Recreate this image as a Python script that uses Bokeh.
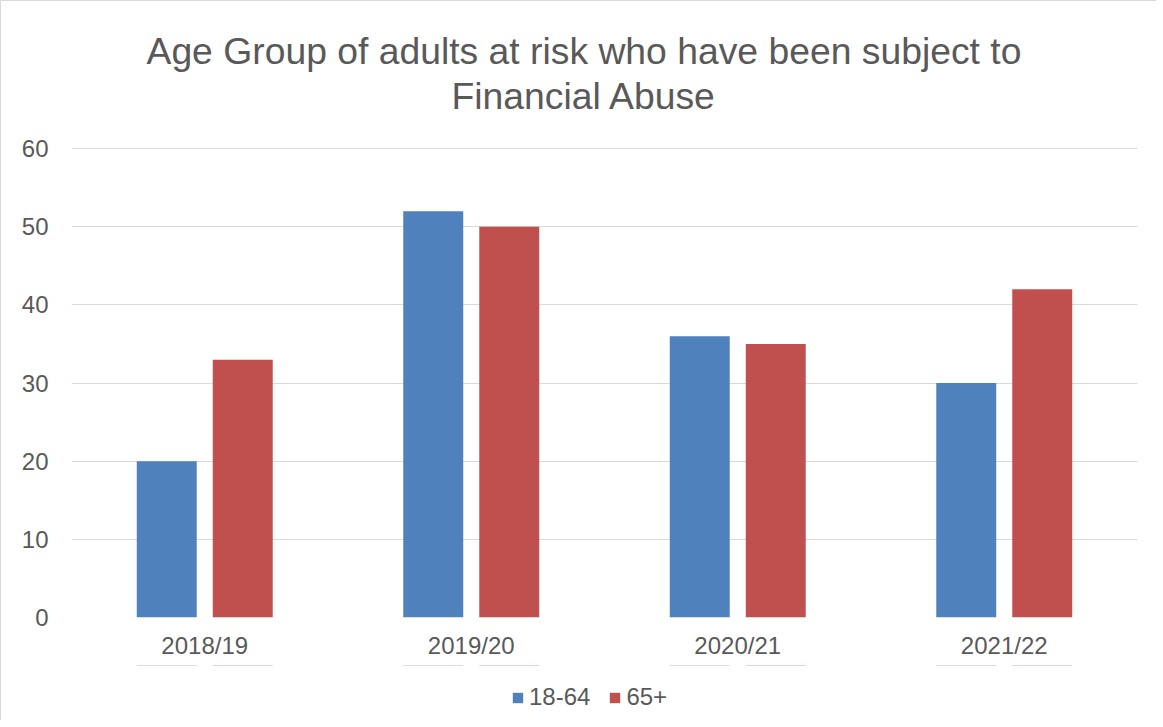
from bokeh.plotting import figure
from bokeh.layouts import column
from bokeh.models import FactorRange, ColumnDataSource, Title, Legend, LegendItem, Range1d, SingleIntervalTicker
from bokeh.transform import dodge
from bokeh.embed import file_html
from bokeh.resources import INLINE

years = ["2018/19", "2019/20", "2020/21", "2021/22"]
age_18_64 = [20, 52, 36, 30]
age_65_plus = [33, 50, 35, 42]
series_names = ["18-64", "65+"]
title_lines = ["Age Group of adults at risk who have been subject to", "Financial Abuse"]

FONT = "Liberation Sans"
TXT = "#595959"
BLUE = "#4F81BD"
RED = "#C0504D"

src = ColumnDataSource(dict(year=years, a=age_18_64, b=age_65_plus))
xr = FactorRange(factors=years)

p = figure(x_range=xr, y_range=Range1d(0, 60.15),
           width=1155, height=664, output_backend="svg", toolbar_location=None,
           min_border_left=70, min_border_right=19, min_border_top=146, min_border_bottom=48)
p.outline_line_color = None

p.vbar(x=dodge("year", -0.1426, range=xr), top="a", width=0.225, source=src,
       fill_color=BLUE, line_color=None)
p.vbar(x=dodge("year", 0.1426, range=xr), top="b", width=0.225, source=src,
       fill_color=RED, line_color=None)

# blank spacer nearest the plot area, then the two title lines
p.add_layout(Title(text=" ", text_font_size="2px", standoff=27), "above")
p.add_layout(Title(text=title_lines[1], align="left", offset=380, standoff=0,
                   text_font_size="37.3px", text_font=FONT, text_font_style="normal",
                   text_color=TXT), "above")
p.add_layout(Title(text=title_lines[0], align="left", offset=75, standoff=2,
                   text_font_size="37.3px", text_font=FONT, text_font_style="normal",
                   text_color=TXT), "above")

p.xgrid.grid_line_color = None
p.ygrid.grid_line_color = "#d9d9d9"
p.ygrid.grid_line_width = 1
p.yaxis.ticker = SingleIntervalTicker(interval=10)

for ax in (p.xaxis[0], p.yaxis[0]):
    ax.axis_line_color = None
    ax.major_tick_line_color = None
    ax.minor_tick_line_color = None
    ax.major_label_text_font = FONT
    ax.major_label_text_font_size = "24px"
    ax.major_label_text_color = TXT
p.yaxis.major_label_standoff = 17
p.xaxis.major_label_standoff = 8

# legend strip below the chart (its zero-height bars sit far outside its y range)
pl = figure(x_range=xr, y_range=Range1d(-1001, -1000), width=1155, height=55,
            output_backend="svg", toolbar_location=None,
            x_axis_location=None, y_axis_location=None,
            min_border_left=70, min_border_right=19, min_border_top=0, min_border_bottom=0)
pl.outline_line_color = None
pl.xgrid.visible = False
pl.ygrid.visible = False
lr1 = pl.vbar(x=dodge("year", -0.1426, range=xr), top="a", bottom="a", width=0.225, source=src,
              fill_color=BLUE, line_color=None)
lr2 = pl.vbar(x=dodge("year", 0.1426, range=xr), top="b", bottom="b", width=0.225, source=src,
              fill_color=RED, line_color=None)
legend = Legend(items=[LegendItem(label=series_names[0], renderers=[lr1]),
                       LegendItem(label=series_names[1], renderers=[lr2])],
                orientation="horizontal", location=(440, 9),
                glyph_width=13, glyph_height=13, label_standoff=5, spacing=18,
                padding=0, margin=0, border_line_color=None, background_fill_alpha=0,
                label_text_font=FONT, label_text_font_size="24px", label_text_color=TXT)
pl.add_layout(legend, "center")

layout = column(p, pl, spacing=0,
                styles={"border-top": "1px solid #d9d9d9", "border-left": "1px solid #d9d9d9"})

open("out.html", "w").write(file_html(layout, INLINE))
